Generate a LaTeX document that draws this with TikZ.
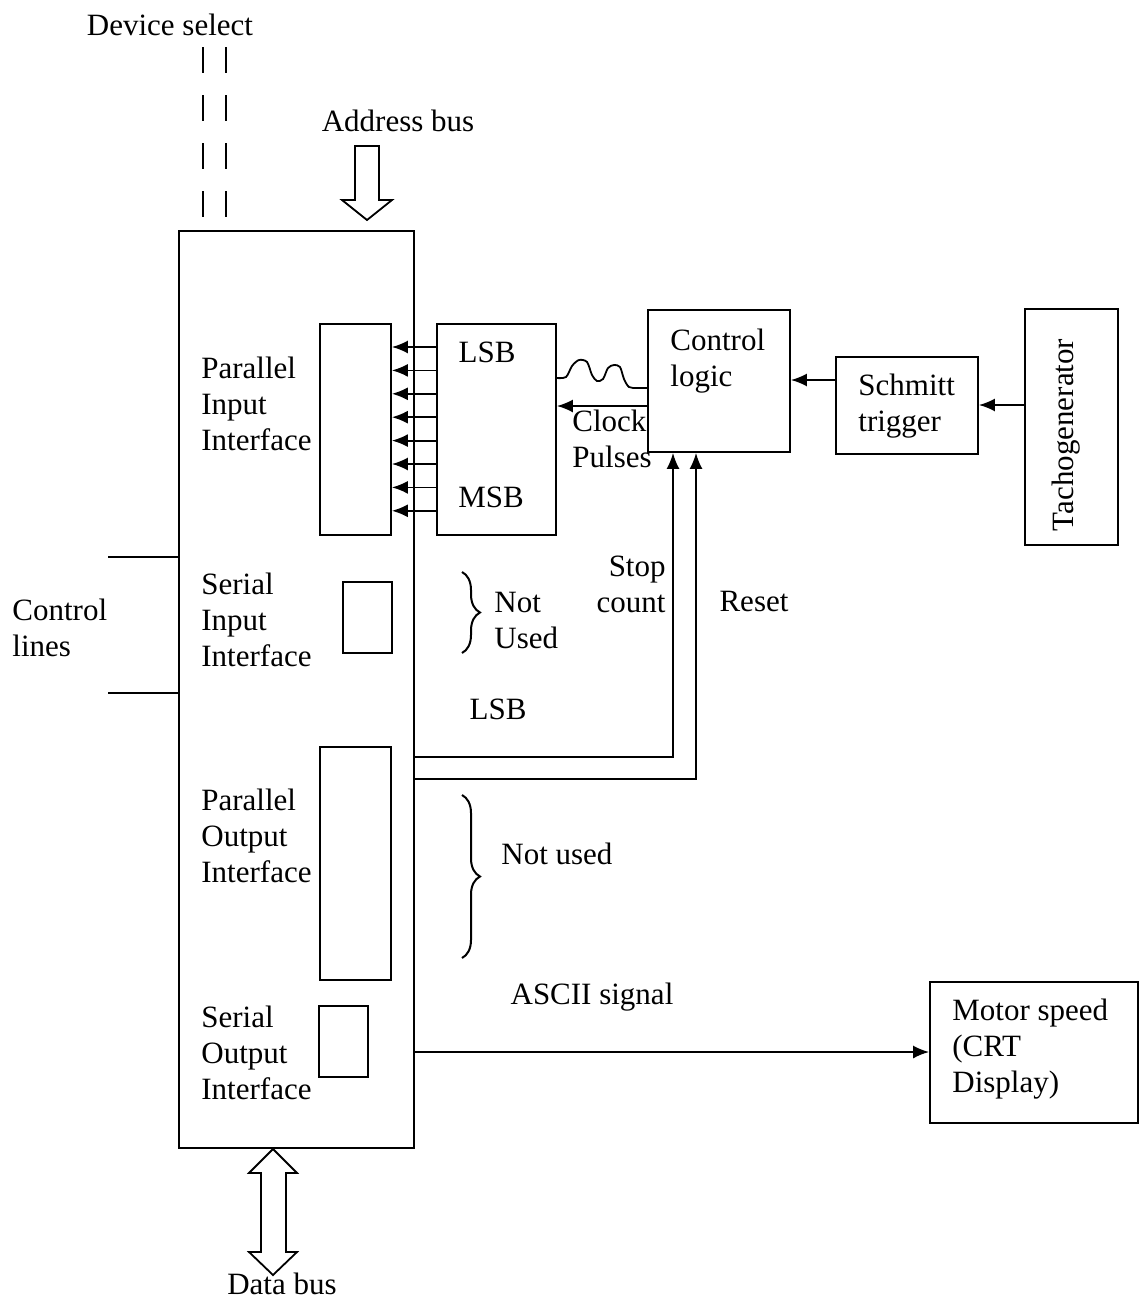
\documentclass[tikz,border=0pt]{standalone}
\usepackage{fontspec}
\setmainfont{Liberation Serif}
\usetikzlibrary{arrows.meta,decorations.pathreplacing}
\begin{document}
\begin{tikzpicture}[x=0.5pt,y=-0.5pt,
  box/.style={draw, line width=0.9pt, inner sep=0pt},
  lbl/.style={font=\fontsize{15.5}{18}\selectfont, inner sep=0pt, align=left},
  wire/.style={line width=0.9pt},
  arr/.style={wire, -{Latex[length=8pt,width=6.5pt]}},
  hollow/.style={draw, line width=0.9pt, fill=white},
  bracestyle/.style={line width=1pt, decorate, decoration={brace, amplitude=9pt}},
  dashwire/.style={line width=0.9pt, dash pattern=on 13pt off 11pt}]
\useasboundingbox (0,0) rectangle (1141,1301);

% boxes
\node[box, minimum width=117.5pt, minimum height=458.5pt] (Main) at (296.5,689.5) {};
\node[box, minimum width=35.5pt, minimum height=105.5pt] (PIin) at (355.5,429.5) {};
\node[box, minimum width=59.5pt, minimum height=105.5pt] (Cnt) at (496.5,429.5) {};
\node[box, minimum width=71pt, minimum height=71pt] (CL) at (719,381) {};
\node[box, minimum width=71pt, minimum height=48.5pt] (ST) at (907,405.5) {};
\node[box, minimum width=46.5pt, minimum height=118pt] (Tacho) at (1071.5,427) {};
\node[box, minimum width=24.5pt, minimum height=35.5pt] (SIin) at (367.5,617.5) {};
\node[box, minimum width=35.5pt, minimum height=116.5pt] (POin) at (355.5,863.5) {};
\node[box, minimum width=24.5pt, minimum height=35.5pt] (SOin) at (343.5,1041.5) {};
\node[box, minimum width=104pt, minimum height=70.5pt] (Motor) at (1034,1052.5) {};

% labels
\node[lbl] (tDev) at (170,25) {Device select};
\node[lbl] (tAddr) at (398,121) {Address bus};
\node[lbl, anchor=west] (tPI) at (201,404) {Parallel\\Input\\Interface};
\node[lbl] (tLSB) at (487,352) {LSB};
\node[lbl] (tMSB) at (491,497) {MSB};
\node[lbl, anchor=west] (tCL) at (670,361) {Control\\logic};
\node[lbl, anchor=west] (tClk) at (572,439) {Clock\\Pulses};
\node[lbl, anchor=west] (tST) at (858,406) {Schmitt\\trigger};
\node[lbl, rotate=90] (tTacho) at (1066,435) {Tachogenerator};
\node[lbl, anchor=west] (tSI) at (201,620) {Serial\\Input\\Interface};
\node[lbl, anchor=west] (tCtl) at (12,628) {Control\\lines};
\node[lbl, anchor=east, align=right] (tStop) at (666,584) {Stop\\count};
\node[lbl] (tReset) at (754,601) {Reset};
\node[lbl, anchor=west] (tNU1) at (494,620) {Not\\Used};
\node[lbl] (tLSB2) at (498,709) {LSB};
\node[lbl, anchor=west] (tPO) at (201,836) {Parallel\\Output\\Interface};
\node[lbl, anchor=west] (tNU2) at (501,854) {Not used};
\node[lbl] (tASCII) at (592,997) {ASCII signal};
\node[lbl, anchor=west] (tSO) at (201,1053) {Serial\\Output\\Interface};
\node[lbl, anchor=west] (tMotor) at (952,1049) {Motor speed\\(CRT\\Display)};
\node[lbl] (tData) at (282,1284) {Data bus};

% device select dashed lines
\coordinate (ds1) at (203,47);
\coordinate (ds1b) at (203,220);
\coordinate (ds2) at (226,47);
\coordinate (ds2b) at (226,220);
\draw[dashwire] (ds1) -- (ds1b);
\draw[dashwire] (ds2) -- (ds2b);

% address bus hollow arrow
\draw[hollow] (355,146) -- (379,146) -- (379,200) -- (392,200) -- (367,220) -- (342,200) -- (355,200) -- cycle;

% data bus double hollow arrow
\draw[hollow] (273,1149) -- (297,1173) -- (286,1173) -- (286,1252) -- (297,1252) -- (273,1275)
  -- (249,1252) -- (261,1252) -- (261,1173) -- (249,1173) -- cycle;

% counter outputs to parallel input interface
\foreach \yy in {347,370.4,393.8,417.2,440.6,464,487.4,510.8}{
  \coordinate (t) at (0,\yy);
  \draw[arr] (Cnt.west |- t) -- (PIin.east |- t);
}

% clock wave
\draw[wire] plot[smooth, tension=0.5] coordinates {(556,378) (566,377) (572,366) (579,360) (587,362) (592,375) (597,381) (603,379) (608,368) (614,365) (620,367) (624,379) (629,387) (637,388) (648,388)};

% clock pulses arrow
\coordinate (clk) at (0,406);
\draw[arr] (CL.west |- clk) -- (Cnt.east |- clk);

% schmitt -> control logic, tacho -> schmitt
\coordinate (s2c) at (0,380);
\draw[arr] (ST.west |- s2c) -- (CL.east |- s2c);
\coordinate (t2s) at (0,405);
\draw[arr] (Tacho.west |- t2s) -- (ST.east |- t2s);

% stop count and reset
\coordinate (sc) at (673,757);
\draw[arr] (Main.east |- sc) -| (CL.south -| sc);
\coordinate (rs) at (696,779);
\draw[arr] (Main.east |- rs) -| (CL.south -| rs);

% control lines
\coordinate (cl1) at (108,557);
\coordinate (cl2) at (108,693);
\draw[wire] (cl1) -- (Main.west |- cl1);
\draw[wire] (cl2) -- (Main.west |- cl2);

% serial output to motor speed display
\coordinate (so) at (0,1052);
\draw[arr] (Main.east |- so) -- (Motor.west |- so);

% braces
\draw[bracestyle] (462,572) -- (462,653);
\draw[bracestyle] (462,795) -- (462,958);
\end{tikzpicture}
\end{document}
